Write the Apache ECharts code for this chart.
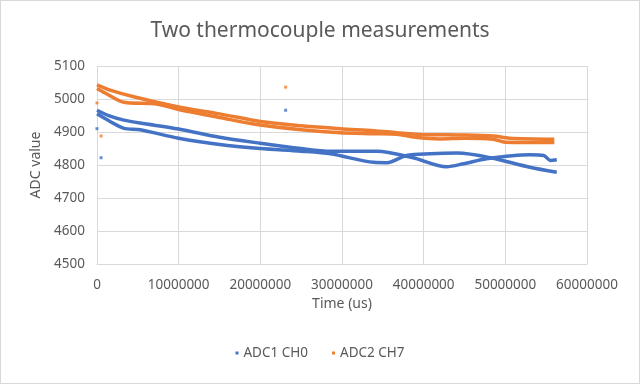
<!DOCTYPE html>
<html>
<head>
<meta charset="utf-8">
<script src="https://cdn.jsdelivr.net/npm/echarts@6/dist/echarts.min.js"></script>
<style>
html,body{margin:0;padding:0;background:#fff;}
#chart{width:638px;height:382px;border:1px solid #d9d9d9;}
</style>
</head>
<body>
<div id="chart"></div>
<script>
// Tick labels / axes
const xTicks = [0, 10000000, 20000000, 30000000, 40000000, 50000000, 60000000];
const yTicks = [4500, 4600, 4700, 4800, 4900, 5000, 5100];
const seriesNames = ['ADC1 CH0', 'ADC2 CH7'];

// ADC1 CH0 - first pass (time in us)
const adc1RunATime  = [0, 1600000, 3300000, 5300000, 10000000, 15000000, 20000000, 25000000, 28600000, 34300000, 38700000, 42800000, 44900000, 47700000, 53000000, 54700000, 55500000, 56300000];
const adc1RunAValue = [4966, 4948, 4936, 4927, 4909, 4884, 4866, 4850, 4842, 4842, 4822, 4795, 4804, 4819, 4831, 4829, 4814, 4816];
// ADC1 CH0 - second pass
const adc1RunBTime  = [0, 1600000, 3300000, 5300000, 10000000, 15000000, 20000000, 25000000, 28600000, 33900000, 35500000, 37900000, 40800000, 44100000, 48200000, 53000000, 56300000];
const adc1RunBValue = [4955, 4932, 4911, 4907, 4881, 4862, 4850, 4842, 4834, 4808, 4807, 4829, 4834, 4836, 4822, 4793, 4778];
// ADC1 CH0 - isolated samples
const adc1SpikeTime  = [0, 500000, 23100000];
const adc1SpikeValue = [4910, 4822, 4966];

// ADC2 CH7 - first pass
const adc2RunATime  = [0, 1600000, 4500000, 10000000, 15000000, 20000000, 25000000, 29800000, 33900000, 36700000, 40000000, 44500000, 48500000, 50500000, 56000000];
const adc2RunAValue = [5043, 5027, 5007, 4976, 4955, 4932, 4919, 4910, 4904, 4898, 4892, 4891, 4888, 4881, 4878];
// ADC2 CH7 - second pass
const adc2RunBTime  = [0, 1000000, 3300000, 7300000, 10000000, 15000000, 20000000, 25000000, 29800000, 33900000, 36700000, 39000000, 42000000, 45000000, 48500000, 50000000, 56000000];
const adc2RunBValue = [5032, 5018, 4990, 4985, 4968, 4944, 4921, 4907, 4898, 4895, 4893, 4884, 4879, 4881, 4878, 4869, 4868];
// ADC2 CH7 - isolated samples
const adc2SpikeTime  = [0, 500000, 23100000];
const adc2SpikeValue = [4988, 4888, 5036];

const colors = ['#4472C4', '#ED7D31'];
const zip = (t, v) => t.map((x, i) => [x, v[i]]);

function lineSeries(name, color, t, v) {
  return {
    name: name, type: 'line', data: zip(t, v), showSymbol: false, symbol: 'none',
    smooth: 0.3, color: color,
    lineStyle: { width: 3.5, color: color }, itemStyle: { color: color },
    emphasis: { disabled: true }, animation: false
  };
}
function spikeSeries(name, color, t, v) {
  return {
    name: name, type: 'scatter', data: zip(t, v), symbol: 'rect', symbolSize: 3,
    itemStyle: { color: color }, emphasis: { disabled: true }, animation: false
  };
}

const chart = echarts.init(document.getElementById('chart'), null, { renderer: 'canvas' });
const labelFont = { color: '#595959', fontFamily: 'Noto Sans', fontSize: 13.5 };
chart.setOption({
  animation: false,
  title: {
    text: 'Two thermocouple measurements', left: 'center', top: 15,
    textStyle: { color: '#595959', fontFamily: 'Noto Sans', fontSize: 21, fontWeight: 'normal' }
  },
  grid: { left: 96, right: 52, top: 65, bottom: 119, containLabel: false },
  legend: {
    bottom: 18, left: 'center', itemWidth: 3, itemHeight: 3, itemGap: 24,
    textStyle: { color: '#595959', fontFamily: 'Noto Sans', fontSize: 13.5 },
    data: [
      { name: seriesNames[0], icon: 'rect', itemStyle: { color: colors[0] } },
      { name: seriesNames[1], icon: 'rect', itemStyle: { color: colors[1] } }
    ]
  },
  xAxis: {
    type: 'value', min: xTicks[0], max: xTicks[xTicks.length - 1], interval: xTicks[1] - xTicks[0],
    name: 'Time (us)', nameLocation: 'middle', nameGap: 32,
    nameTextStyle: { color: '#595959', fontFamily: 'Noto Sans', fontSize: 14 },
    axisLine: { show: true, lineStyle: { color: '#d9d9d9' } },
    axisTick: { show: false },
    axisLabel: Object.assign({ margin: 14, formatter: v => String(v) }, labelFont),
    splitLine: { show: true, lineStyle: { color: '#d9d9d9', width: 1 } }
  },
  yAxis: {
    type: 'value', min: yTicks[0], max: yTicks[yTicks.length - 1], interval: yTicks[1] - yTicks[0],
    name: 'ADC value', nameLocation: 'middle', nameGap: 52,
    nameTextStyle: { color: '#595959', fontFamily: 'Noto Sans', fontSize: 14 },
    axisLine: { show: true, lineStyle: { color: '#d9d9d9' } },
    axisTick: { show: false },
    axisLabel: Object.assign({ margin: 12, formatter: v => String(v) }, labelFont),
    splitLine: { show: true, lineStyle: { color: '#d9d9d9', width: 1 } }
  },
  series: [
    lineSeries(seriesNames[0], colors[0], adc1RunATime, adc1RunAValue),
    lineSeries(seriesNames[0], colors[0], adc1RunBTime, adc1RunBValue),
    spikeSeries(seriesNames[0], colors[0], adc1SpikeTime, adc1SpikeValue),
    lineSeries(seriesNames[1], colors[1], adc2RunATime, adc2RunAValue),
    lineSeries(seriesNames[1], colors[1], adc2RunBTime, adc2RunBValue),
    spikeSeries(seriesNames[1], colors[1], adc2SpikeTime, adc2SpikeValue)
  ]
});
</script>
</body>
</html>
